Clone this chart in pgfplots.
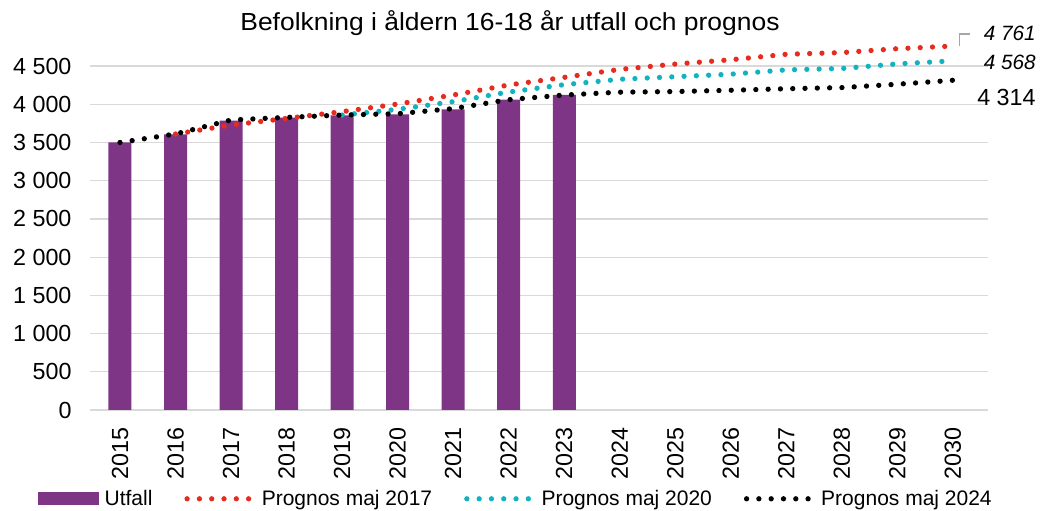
\documentclass[border=0pt]{standalone}
\usepackage{pgfplots}
\pgfplotsset{compat=1.18}
\usepackage{fontspec}
\setmainfont{Liberation Sans}
\definecolor{barpurple}{HTML}{7F3586}
\definecolor{pred}{HTML}{E62C1F}
\definecolor{pcyan}{HTML}{12B2C0}
\definecolor{gridgray}{HTML}{D9D9D9}
\begin{document}
\begin{tikzpicture}[x=1pt,y=1pt]
\path[use as bounding box] (0,0) rectangle (1042,511);
\begin{axis}[
  at={(90pt,101pt)}, anchor=south west,
  scale only axis, width=898pt, height=366.9pt,
  xmin=2014.46, xmax=2030.63, ymin=0, ymax=4800,
  axis line style={draw=none},
  ytick={0,500,...,4500},
  ymajorgrids, grid style={gridgray, line width=1.2pt},
  tick style={draw=none},
  xtick={2015,...,2030},
  xticklabels={2015,2016,2017,2018,2019,2020,2021,2022,2023,2024,2025,2026,2027,2028,2029,2030},
  xticklabel style={rotate=90, anchor=east, font=\fontsize{23.3}{23.3}\selectfont},
  xticklabel shift=14pt,
  yticklabel style={font=\fontsize{23.3}{23.3}\selectfont},
  yticklabel shift=15pt,
  /pgf/number format/.cd, 1000 sep={\ }, assume math mode=true,
  /pgfplots/.cd,
  clip=false,
  legend columns=-1,
  legend style={at={(0.474,-0.242)}, anchor=center, draw=none, fill=none,
    font=\fontsize{21}{21}\selectfont,
    /tikz/every odd column/.append style={column sep=8pt},
    /tikz/every even column/.append style={column sep=30pt}},
]
\draw[gridgray, line width=1.2pt] (axis cs:2014.46,0) -- (axis cs:2030.63,0);
\addplot[ybar, bar width=23pt, fill=barpurple, draw=none,
  legend image code/.code={\fill[barpurple, overlay] (-61pt,-6.5pt) rectangle (0pt,6.5pt); \path (-61pt,-6.5pt) rectangle (-4pt,6.5pt);}]
  coordinates {(2015,3500) (2016,3605) (2017,3785) (2018,3824) (2019,3855) (2020,3868) (2021,3934) (2022,4060) (2023,4121)};
\addlegendentry{Utfall}
\addplot[pred, line width=5.3pt, line cap=round, dash pattern=on 0pt off 12.3pt,
  legend image code/.code={\draw[pred, line width=5.3pt, line cap=round, dash pattern=on 0pt off 12.3pt] (0pt,0pt) -- (62pt,0pt);}]
  coordinates {(2016,3611) (2017,3728) (2018,3815) (2019,3903) (2020,4003) (2021,4121) (2022,4252) (2023,4352) (2024,4456) (2025,4526) (2026,4582) (2027,4654) (2028,4676) (2029,4727) (2030,4761)};
\addlegendentry{Prognos maj 2017}
\addplot[pcyan, line width=5.3pt, line cap=round, dash pattern=on 0pt off 12.3pt,
  legend image code/.code={\draw[pcyan, line width=5.3pt, line cap=round, dash pattern=on 0pt off 12.3pt] (0pt,0pt) -- (62pt,0pt);}]
  coordinates {(2019,3859) (2020,3933) (2021,4034) (2022,4160) (2023,4256) (2024,4327) (2025,4360) (2026,4393) (2027,4450) (2028,4468) (2029,4528) (2030,4568)};
\addlegendentry{Prognos maj 2020}
\addplot[black, line width=5.3pt, line cap=round, dash pattern=on 0pt off 12.3pt,
  legend image code/.code={\draw[black, line width=5.3pt, line cap=round, dash pattern=on 0pt off 12.3pt] (0pt,0pt) -- (62pt,0pt);}]
  coordinates {(2015,3500) (2016,3611) (2017,3794) (2018,3828) (2019,3859) (2020,3876) (2021,3943) (2022,4060) (2023,4121) (2024,4158) (2025,4166) (2026,4183) (2027,4203) (2028,4218) (2029,4262) (2030,4314)};
\addlegendentry{Prognos maj 2024}
\draw[gray!70, line width=1.2pt] (axis cs:2030.12,4762) -- (axis cs:2030.12,4919) -- (axis cs:2030.3,4919);
\node[anchor=east, font=\fontsize{20.7}{20.7}\selectfont\itshape, inner sep=0pt] at (axis cs:2031.49,4932) {4 761};
\node[anchor=east, font=\fontsize{20.7}{20.7}\selectfont\itshape, inner sep=0pt] at (axis cs:2031.49,4553) {4 568};
\node[anchor=east, font=\fontsize{23.3}{23.3}\selectfont, inner sep=0pt] at (axis cs:2031.49,4082) {4 314};
\end{axis}
\node[anchor=base, font=\fontsize{24.7}{24.7}\selectfont, inner sep=0pt] at (510pt,480pt) {\scalebox{1.07}[1]{Befolkning i åldern 16-18 år utfall och prognos}};
\end{tikzpicture}
\end{document}
